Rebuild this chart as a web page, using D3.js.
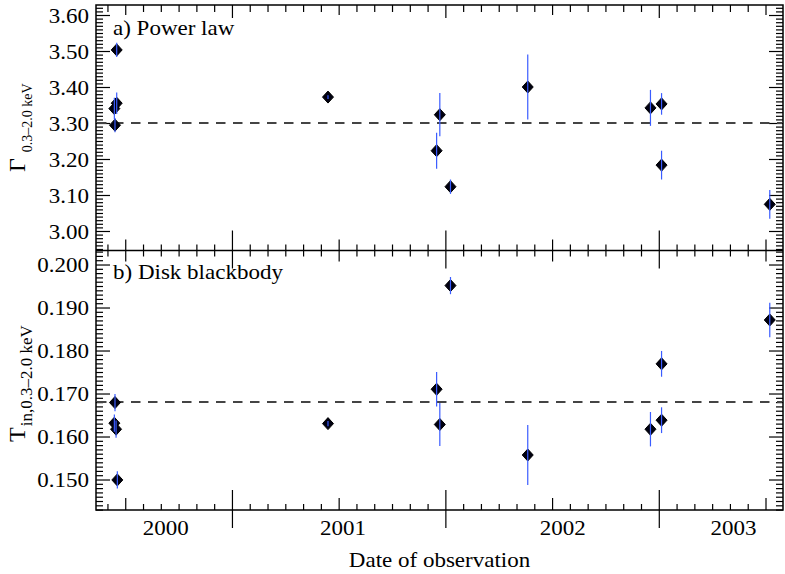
<!DOCTYPE html>
<html>
<head>
<meta charset="utf-8">
<script src="https://cdn.jsdelivr.net/npm/d3@7/dist/d3.min.js"></script>
<style>
html,body{margin:0;padding:0;background:#fff;}
svg{display:block;}
text{font-family:"Liberation Serif","Times New Roman",serif;fill:#000;}
</style>
</head>
<body>
<script>
// ---- data (x in decimal years) ----
const gammaDate = [2000.460, 2000.460, 2000.449, 2000.452, 2001.450, 2001.974, 2001.959, 2002.024, 2002.386, 2002.961, 2003.013, 2003.013, 2003.520];
const gammaVal  = [3.503, 3.355, 3.340, 3.294, 3.372, 3.323, 3.223, 3.123, 3.400, 3.342, 3.353, 3.183, 3.074];
const gammaErr  = [0.020, 0.030, 0.030, 0.020, 0.005, 0.060, 0.050, 0.020, 0.090, 0.050, 0.030, 0.040, 0.040];
const gammaRef  = 3.30;

const tempDate = [2000.452, 2000.449, 2000.457, 2000.463, 2001.450, 2001.959, 2001.974, 2002.024, 2002.386, 2002.961, 2003.013, 2003.013, 2003.520];
const tempVal  = [0.1679, 0.1631, 0.1617, 0.1499, 0.1630, 0.1710, 0.1628, 0.1951, 0.1557, 0.1617, 0.1638, 0.1769, 0.1871];
const tempErr  = [0.0020, 0.0020, 0.0020, 0.0020, 0.0006, 0.0040, 0.0050, 0.0020, 0.0070, 0.0040, 0.0030, 0.0030, 0.0040];
const tempRef  = 0.168;

const yearLabels = ["2000", "2001", "2002", "2003"];
const yearLabelPos = [2000.69, 2001.52, 2002.55, 2003.35];
const gammaTicks = [3.00, 3.10, 3.20, 3.30, 3.40, 3.50, 3.60];
const tempTicks = [0.150, 0.160, 0.170, 0.180, 0.190, 0.200];
const panelTitles = ["a) Power law", "b) Disk blackbody"];
const xTitle = "Date of observation";

// ---- layout ----
const W = 785, H = 574;
const L = 96, R = 783, T0 = 5, M = 250.5, B = 510;
const SX = 1.15; // horizontal stretch of the reference's lettering

const svg = d3.select("body").append("svg").attr("width", W).attr("height", H);

const x = d3.scaleLinear().domain([2000.363, 2003.582]).range([L, R]);
const yTop = d3.scaleLinear().domain([2.9458, 3.6278]).range([M, T0]);
const yBot = d3.scaleLinear().domain([0.14291, 0.20326]).range([B, M]);

// month ticks
const months = d3.range(Math.ceil((x.domain()[0] - 2000) * 12), Math.floor((x.domain()[1] - 2000) * 12) + 1);
const longT = months.filter(m => m % 12 === 0).map(m => 2000 + m / 12);
const medT = months.filter(m => m % 12 !== 0 && m % 6 === 0).map(m => 2000 + m / 12);
const minT = months.filter(m => m % 6 !== 0).map(m => 2000 + m / 12);

function tickAxis(gen, vals, size, tx, ty) {
  const g = svg.append("g").attr("transform", `translate(${tx},${ty})`)
    .call(gen.tickValues(vals).tickSize(size).tickFormat(""));
  g.select(".domain").remove();
  g.selectAll(".tick line").attr("stroke", "#000").attr("stroke-width", 1.2);
  return g;
}

// top border (ticks pointing down)
tickAxis(d3.axisTop(x), minT, -7, 0, T0);
tickAxis(d3.axisTop(x), medT, -10, 0, T0);
tickAxis(d3.axisTop(x), longT, -13, 0, T0);
// middle shared axis (crossing ticks)
tickAxis(d3.axisTop(x), minT, 6, 0, M);
tickAxis(d3.axisBottom(x), minT, 6, 0, M);
tickAxis(d3.axisTop(x), medT, 11, 0, M);
tickAxis(d3.axisBottom(x), medT, 11, 0, M);
tickAxis(d3.axisTop(x), longT, 20, 0, M);
tickAxis(d3.axisBottom(x), longT, 18, 0, M);
// bottom border
tickAxis(d3.axisBottom(x), minT, -6, 0, B);
tickAxis(d3.axisBottom(x), medT, -12, 0, B);
tickAxis(d3.axisBottom(x), longT, -20, 0, B);
tickAxis(d3.axisBottom(x), longT, 18, 0, B);

// y minor/major ticks
const gMinor = d3.range(295, 363).filter(k => k % 10 !== 0).map(k => k / 100);
const tMinor = d3.range(143, 204).filter(k => k % 10 !== 0).map(k => k / 1000);
[[yTop, gMinor, gammaTicks], [yBot, tMinor, tempTicks]].forEach(([ys, mn, mj]) => {
  tickAxis(d3.axisLeft(ys), mn, -7, L, 0);
  tickAxis(d3.axisRight(ys), mn, -7, R, 0);
  tickAxis(d3.axisLeft(ys), mj, -14, L, 0);
  tickAxis(d3.axisRight(ys), mj, -14, R, 0);
});

// tick labels
function yLabels(ys, vals, fmt) {
  const g = svg.append("g").attr("transform", `translate(${L},0)`)
    .call(d3.axisLeft(ys).tickValues(vals).tickSize(0).tickPadding(6).tickFormat(d3.format(fmt)));
  g.attr("font-family", null).attr("font-size", null);
  g.select(".domain").remove();
  g.selectAll(".tick line").remove();
  g.selectAll(".tick text").attr("font-size", 20)
    .attr("fill", "#000").attr("transform", `scale(${SX},1)`).attr("dy", "0.36em");
}
yLabels(yTop, gammaTicks, ".2f");
yLabels(yBot, tempTicks, ".3f");

// frame
svg.append("rect").attr("x", L).attr("y", T0).attr("width", R - L).attr("height", B - T0)
  .attr("fill", "none").attr("stroke", "#000").attr("stroke-width", 1.5);
svg.append("line").attr("x1", L).attr("x2", R).attr("y1", M).attr("y2", M)
  .attr("stroke", "#000").attr("stroke-width", 1.5);

// year labels
svg.append("g").selectAll("text").data(yearLabels).join("text")
  .attr("transform", (d, i) => `translate(${x(yearLabelPos[i])},535) scale(${SX},1)`)
  .attr("text-anchor", "middle").attr("font-size", 20).text(d => d);
svg.append("text").attr("transform", `translate(${(L + R) / 2},567) scale(${SX},1)`)
  .attr("text-anchor", "middle").attr("font-size", 20).text(xTitle);

// panel titles
svg.append("text").attr("transform", `translate(113,35) scale(${SX},1)`).attr("font-size", 20).text(panelTitles[0]);
svg.append("text").attr("transform", `translate(113,279) scale(${SX},1)`).attr("font-size", 20).text(panelTitles[1]);

// y titles
const t1 = svg.append("text").attr("transform", "translate(25,172) rotate(-90)").attr("font-size", 24);
t1.append("tspan").text("Γ");
t1.append("tspan").attr("dx", 6).attr("dy", 7).attr("font-size", 14).text("0.3–2.0 keV");
const t2 = svg.append("text").attr("transform", "translate(25,442) rotate(-90)").attr("font-size", 24);
t2.append("tspan").text("T");
t2.append("tspan").attr("dx", 1).attr("dy", 7).attr("font-size", 17).text("in,0.3–2.0 keV");

// reference dashed lines
function refLine(ys, v) {
  svg.append("line").attr("x1", L + 1).attr("x2", R - 1).attr("y1", ys(v)).attr("y2", ys(v))
    .attr("stroke", "#444").attr("stroke-width", 2).attr("stroke-dasharray", "9.5,7.5");
}
refLine(yTop, gammaRef);
refLine(yBot, tempRef);

// points with error bars
function points(dates, vals, errs, ys) {
  const data = dates.map((d, i) => ({d, v: vals[i], e: errs[i]}));
  const g = svg.append("g");
  const diamond = "M0,-6L5.5,0L0,6L-5.5,0Z";
  g.selectAll("path").data(data).join("path")
    .attr("d", diamond)
    .attr("transform", p => `translate(${x(p.d)},${ys(p.v)})`)
    .attr("fill", "#000010").attr("stroke", "#000").attr("stroke-width", 1);
  g.selectAll("line").data(data).join("line")
    .attr("x1", p => x(p.d)).attr("x2", p => x(p.d))
    .attr("y1", p => ys(p.v - p.e)).attr("y2", p => ys(p.v + p.e))
    .attr("stroke", "#3a5cff").attr("stroke-width", 1.2);
}
points(gammaDate, gammaVal, gammaErr, yTop);
points(tempDate, tempVal, tempErr, yBot);
</script>
</body>
</html>
